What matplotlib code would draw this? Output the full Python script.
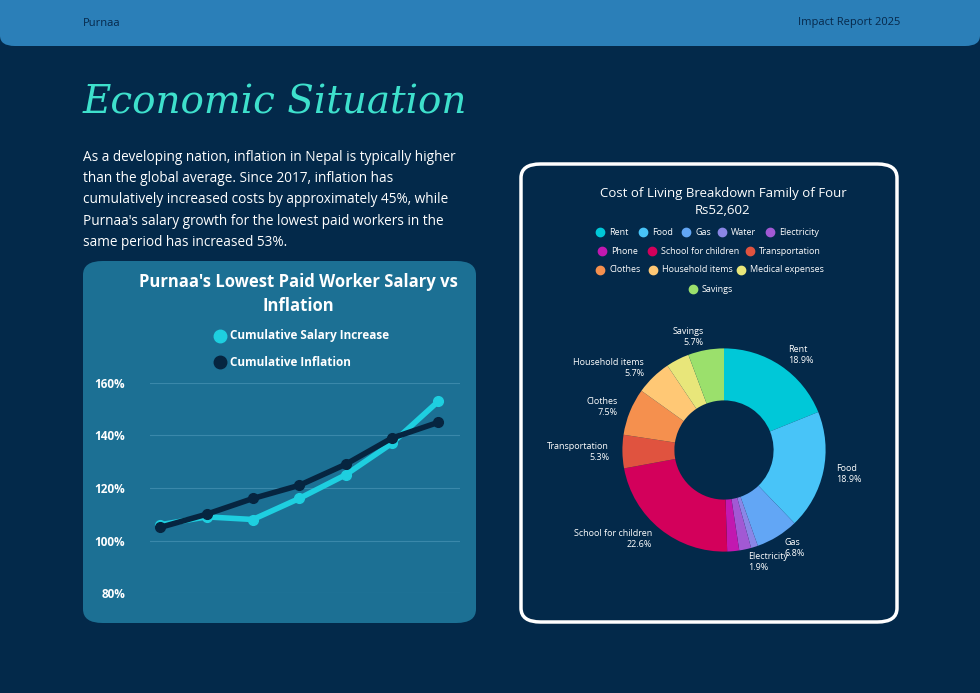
import matplotlib
matplotlib.use("Agg")
import matplotlib.pyplot as plt
from matplotlib.patches import FancyBboxPatch
from matplotlib.lines import Line2D
import numpy as np

plt.rcParams["font.family"] = "Open Sans"

years = [0, 1, 2, 3, 4, 5, 6]
salary = [106, 109, 108, 116, 125, 137, 153]
inflation = [105, 110, 116, 121, 129, 139, 145]
yticks = [80, 100, 120, 140, 160]

cats = ["Rent", "Food", "Gas", "Water", "Electricity", "Phone", "School for children",
        "Transportation", "Clothes", "Household items", "Medical expenses", "Savings"]
shares = [18.9, 18.9, 6.8, 1.1, 1.9, 1.9, 22.6, 5.3, 7.5, 5.7, 3.7, 5.7]
colors = ["#00c8d8", "#48c4f8", "#62a6f5", "#8a86e6", "#a259d4", "#c218b0", "#d3005b",
          "#e0533f", "#f5904e", "#ffc875", "#e8e67a", "#9be06c"]
labelled = {"Rent", "Food", "Gas", "Electricity", "School for children", "Transportation",
            "Clothes", "Household items", "Savings"}

BG = "#03294a"
W, H = 980, 693
fig = plt.figure(figsize=(9.8, 6.93), dpi=100, facecolor=BG)

def fx(x): return x / W
def fy(y): return 1 - y / H

fig.patches.append(FancyBboxPatch((fx(0), fy(46)), 1, 46 / H + 0.05, boxstyle="round,pad=0,rounding_size=0.015",
                                  transform=fig.transFigure, facecolor="#2b7fb8", edgecolor="none", zorder=-2))
fig.text(fx(83), fy(23), "Purnaa", color="#06284a", fontsize=8, va="center")
fig.text(fx(900), fy(23), "Impact Report 2025", color="#06284a", fontsize=8, va="center", ha="right")

fig.text(fx(83), fy(103), "Economic Situation", color="#3ee0cc", fontsize=28, style="italic",
         family="DejaVu Serif", va="center")
fig.text(fx(83), fy(200), "As a developing nation, inflation in Nepal is typically higher\n"
         "than the global average. Since 2017, inflation has\n"
         "cumulatively increased costs by approximately 45%, while\n"
         "Purnaa's salary growth for the lowest paid workers in the\n"
         "same period has increased 53%.", color="white", fontsize=9.8, va="center", linespacing=1.55)

fig.patches.append(FancyBboxPatch((fx(83), fy(623)), fx(393), (623 - 261) / H,
                                  boxstyle="round,pad=0,rounding_size=0.02", transform=fig.transFigure,
                                  facecolor="#1c7094", edgecolor="none", zorder=-2))
fig.text(fx(298), fy(294), "Purnaa's Lowest Paid Worker Salary vs\nInflation", color="white",
         fontsize=12, fontweight="bold", ha="center", va="center", linespacing=1.4)
fig.lines.append(Line2D([fx(220)], [fy(336)], marker="o", color="#1ecfe0", markersize=9, transform=fig.transFigure))
fig.text(fx(230), fy(336), "Cumulative Salary Increase", color="white", fontsize=8.5, fontweight="bold", va="center")
fig.lines.append(Line2D([fx(220)], [fy(362)], marker="o", color="#062540", markersize=9, transform=fig.transFigure))
fig.text(fx(230), fy(362), "Cumulative Inflation", color="white", fontsize=8.5, fontweight="bold", va="center")

ax = fig.add_axes([fx(150), fy(593), fx(310), (593 - 383) / H])
ax.set_zorder(2)
ax.set_facecolor("none")
ax.plot(years, salary, color="#1ecfe0", lw=4, marker="o", markersize=7, zorder=3)
ax.plot(years, inflation, color="#062540", lw=4, marker="o", markersize=7, zorder=4)
ax.set_ylim(80, 160)
ax.set_xlim(-0.22, 6.47)
ax.set_yticks(yticks)
ax.set_yticklabels([f"{v}%" for v in yticks], color="white", fontsize=8.5, fontweight="bold")
ax.set_xticks([])
ax.grid(axis="y", color="#3a88aa", lw=0.8)
ax.tick_params(length=0, pad=18)
for s in ax.spines.values():
    s.set_visible(False)

fig.patches.append(FancyBboxPatch((fx(521), fy(622)), fx(376), (622 - 164) / H,
                                  boxstyle="round,pad=0,rounding_size=0.02", transform=fig.transFigure,
                                  facecolor=BG, edgecolor="white", lw=2.5, zorder=-2))
fig.text(fx(723), fy(202), "Cost of Living Breakdown Family of Four\nRs52,602", color="white",
         fontsize=9.5, ha="center", va="center", linespacing=1.5)
rows = [(232, [(600, 0), (643, 1), (686, 2), (722, 3), (770, 4)]),
        (251, [(602, 5), (652, 6), (750, 7)]),
        (270, [(600, 8), (653, 9), (741, 10)]),
        (289, [(693, 11)])]
for y, items in rows:
    for x, i in items:
        fig.lines.append(Line2D([fx(x)], [fy(y)], marker="o", color=colors[i], markersize=6, transform=fig.transFigure))
        fig.text(fx(x + 9), fy(y), cats[i], color="white", fontsize=6.5, va="center")

R = 127
pax = fig.add_axes([fx(724 - R), fy(450 + R), fx(2 * R), 2 * R / H])
pax.set_zorder(2)
wedges, _ = pax.pie(shares, colors=colors, startangle=90, counterclock=False,
                    wedgeprops=dict(width=65 / R, edgecolor="none"))
pax.set_aspect("equal")
for w, c, s in zip(wedges, cats, shares):
    if c not in labelled:
        continue
    ang = np.deg2rad((w.theta1 + w.theta2) / 2)
    r = 1.13
    x, y = r * np.cos(ang), r * np.sin(ang)
    ha = "left" if x > 0.15 else ("right" if x < -0.15 else "center")
    pax.text(x, y, f"{c}\n{s}%", color="white", fontsize=6.5, ha=ha, va="center", linespacing=1.3)

fig.savefig("out.png", dpi=100, facecolor=BG)
